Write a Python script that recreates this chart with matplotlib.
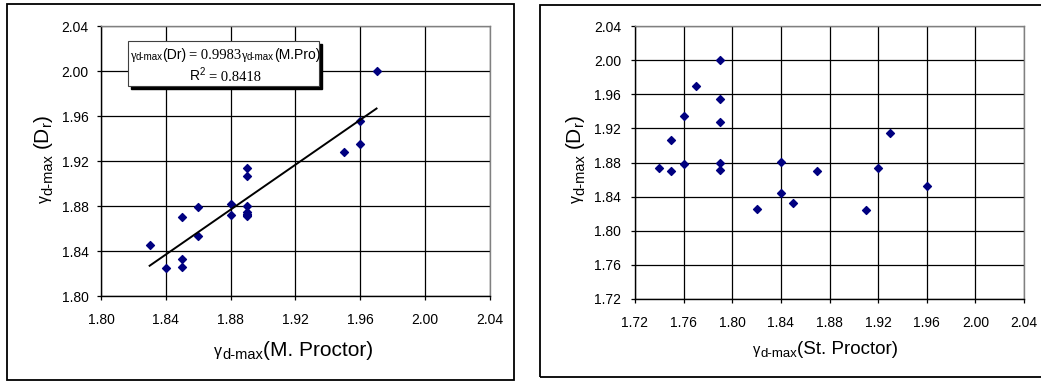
import matplotlib
matplotlib.use("Agg")
import matplotlib.pyplot as plt
from matplotlib.patches import Rectangle
from matplotlib.transforms import IdentityTransform

plt.rcParams['font.family'] = ['Liberation Sans', 'DejaVu Sans']
plt.rcParams['mathtext.fontset'] = 'custom'
plt.rcParams['mathtext.rm'] = 'Liberation Sans'
plt.rcParams['mathtext.default'] = 'regular'

# left chart: modified Proctor vs relative density
mpro_x = [1.83, 1.84, 1.85, 1.85, 1.85, 1.86, 1.86, 1.88, 1.88, 1.89,
          1.89, 1.89, 1.89, 1.89, 1.89, 1.89, 1.95, 1.96, 1.96, 1.97]
mpro_y = [1.845, 1.825, 1.870, 1.833, 1.826, 1.879, 1.853, 1.882, 1.872, 1.914,
          1.907, 1.880, 1.875, 1.873, 1.872, 1.871, 1.928, 1.956, 1.935, 2.000]
slope = 0.9983
r2 = 0.8418

# right chart: standard Proctor vs relative density
spro_x = [1.74, 1.75, 1.75, 1.76, 1.76, 1.77, 1.79, 1.79, 1.79, 1.79,
          1.79, 1.82, 1.84, 1.84, 1.85, 1.87, 1.91, 1.92, 1.93, 1.96]
spro_y = [1.874, 1.906, 1.870, 1.935, 1.878, 1.970, 2.000, 1.955, 1.928, 1.879,
          1.871, 1.825, 1.881, 1.844, 1.832, 1.870, 1.824, 1.873, 1.914, 1.853]

left_ticks = [1.80, 1.84, 1.88, 1.92, 1.96, 2.00, 2.04]
right_ticks = [1.72, 1.76, 1.80, 1.84, 1.88, 1.92, 1.96, 2.00, 2.04]

navy = '#000080'
W, H = 1041, 384
fig = plt.figure(figsize=(W / 100, H / 100), dpi=100)
renderer = fig.canvas.get_renderer()

# outer chart frames
fig.patches.append(Rectangle((7 / W, 4 / H), 507 / W, 376 / H, transform=fig.transFigure,
                             fill=False, ec='black', lw=1.3))
fig.patches.append(Rectangle((540 / W, 7 / H), 520 / W, 372 / H, transform=fig.transFigure,
                             fill=False, ec='black', lw=1.3))

ax1 = fig.add_axes([101 / W, 88 / H, 389 / W, 270 / H])
ax2 = fig.add_axes([635 / W, 85 / H, 389 / W, 273 / H])


def style(ax, ticks, xpad, ypad):
    ax.set_xlim(ticks[0], ticks[-1])
    ax.set_ylim(ticks[0], ticks[-1])
    ax.set_xticks(ticks)
    ax.set_yticks(ticks)
    ax.set_xticklabels(['%.2f' % t for t in ticks])
    ax.set_yticklabels(['%.2f' % t for t in ticks])
    ax.grid(True, color='black', lw=0.9)
    ax.set_axisbelow(True)
    ax.tick_params(direction='out', length=3, width=0.9, labelsize=10, color='black')
    ax.tick_params(axis='x', pad=xpad)
    ax.tick_params(axis='y', pad=ypad)
    ax.spines['left'].set_color('black')
    ax.spines['bottom'].set_color('black')
    ax.spines['top'].set_color('#808080')
    ax.spines['right'].set_color('#808080')
    for s in ax.spines.values():
        s.set_linewidth(1.0)


style(ax1, left_ticks, 9, 6)
style(ax2, right_ticks, 9, 7)

ax1.scatter(mpro_x, mpro_y, marker='D', s=16, color=navy, zorder=3)
xs = [min(mpro_x), max(mpro_x)]
ax1.plot(xs, [slope * v for v in xs], color='black', lw=1.4, zorder=4)

ax2.scatter(spro_x, spro_y, marker='D', s=16, color=navy, zorder=3)


def chain(parts, x, y, rotation=0, center=False, zorder=3):
    # parts: (text, size, shift down in px, family, gap before in px)
    texts = []
    for s, size, shift, fam, gap in parts:
        t = fig.text(0, 0, s, fontsize=size, family=fam, transform=IdentityTransform(),
                     rotation=rotation, rotation_mode='anchor', ha='left', va='baseline',
                     zorder=zorder)
        texts.append(t)
    sizes = []
    for t in texts:
        bb = t.get_window_extent(renderer)
        sizes.append(bb.width if rotation == 0 else bb.height)
    total = sum(sizes) + sum(p[4] for p in parts)
    pos = -total / 2 if center else 0
    for t, w, p in zip(texts, sizes, parts):
        pos += p[4]
        if rotation == 0:
            t.set_position((x + pos, H - y - p[2]))
        else:
            t.set_position((x + p[2], H - y + pos))
        pos += w


sans = ['Liberation Sans', 'DejaVu Sans']
serif = ['Liberation Serif', 'DejaVu Serif']

# equation box with shadow
bx0, bx1, by0, by1 = 1.8167, 1.9345, 1.9865, 2.0270
ax1.add_patch(Rectangle((bx0 + 0.0019, by0 - 0.0027), bx1 - bx0, by1 - by0,
                        fc='black', ec='black', zorder=5))
ax1.add_patch(Rectangle((bx0, by0), bx1 - bx0, by1 - by0, fc='white', ec='#404040', lw=0.8, zorder=6))
chain([('γ', 9, 0, serif, 0), ('d-max', 7, 1, sans, 0), ('(Dr)', 10, 0, sans, 0),
       ('= 0.9983', 10.5, 0, serif, 3), ('γ', 9, 0, serif, 0), ('d-max', 7, 1, sans, 0),
       ('(M.Pro)', 10, 0, sans, 0)], 225, 59, center=True, zorder=8)
chain([('R$^2$', 10, 0, sans, 0), ('= %.4f' % r2, 10.5, 0, serif, 3)], 225, 81,
      center=True, zorder=8)

# axis labels
chain([('γ', 11.5, 0, sans, 0), ('d-max', 10.5, 3, sans, 0), ('(M. Proctor)', 15, 0, sans, 0)],
      214, 356)
chain([('γ', 10.5, 0, sans, 0), ('d-max', 9.5, 3, sans, 0), ('(St. Proctor)', 13.5, 0, sans, 0)],
      753, 354)
chain([('γ', 11.5, 0, sans, 0), ('d-max', 10.5, 3, sans, 0), ('(D$_r$)', 15, 0, sans, 4)],
      49, 203, rotation=90)
chain([('γ', 11.5, 0, sans, 0), ('d-max', 10.5, 3, sans, 0), ('(D$_r$)', 15, 0, sans, 4)],
      581, 203, rotation=90)

fig.savefig('out.png', dpi=100)
